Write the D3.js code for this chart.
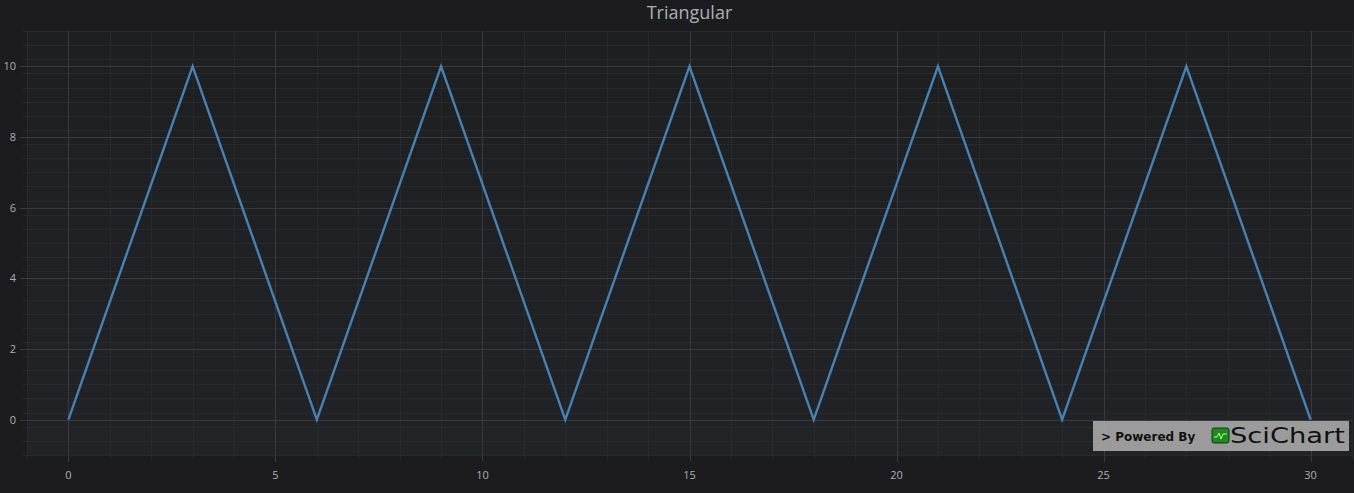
<!DOCTYPE html>
<html>
<head>
<meta charset="utf-8">
<script src="https://cdn.jsdelivr.net/npm/d3@7"></script>
<style>
  html, body { margin: 0; padding: 0; background: #1c1c1e; }
  svg { display: block; font-family: "Open Sans", "DejaVu Sans", sans-serif; }
</style>
</head>
<body>
<svg id="chart" width="1354" height="493"></svg>
<script>
// triangular wave, period 6, amplitude 10
const xValues = [0, 3, 6, 9, 12, 15, 18, 21, 24, 27, 30];
const yValues = [0, 10, 0, 10, 0, 10, 0, 10, 0, 10, 0];
const xTicks = [0, 5, 10, 15, 20, 25, 30];
const yTicks = [0, 2, 4, 6, 8, 10];
const title = 'Triangular';

const width = 1354, height = 493;
const plot = { left: 27, right: 1352, top: 31, bottom: 455 };

const svg = d3.select('#chart');

const x = d3.scaleLinear().domain([-1, 31]).range([plot.left, plot.right]);
const y = d3.scaleLinear().domain([-1, 11]).range([plot.bottom, plot.top]);

// plot background
const grad = svg.append('defs').append('linearGradient')
    .attr('id', 'bg').attr('x1', 0).attr('y1', 0).attr('x2', 0).attr('y2', 1);
grad.append('stop').attr('offset', '0%').attr('stop-color', '#1e1f21');
grad.append('stop').attr('offset', '100%').attr('stop-color', '#222326');

svg.append('rect')
    .attr('x', plot.left).attr('y', plot.top)
    .attr('width', plot.right - plot.left).attr('height', plot.bottom - plot.top)
    .attr('fill', 'url(#bg)');

// minor grid
const xMinor = d3.range(-1, 32, 1).filter(d => d % 5 !== 0);
const yMinor = d3.range(-10, 111, 4).map(d => d / 10).filter(d => d % 2 !== 0);

svg.append('g').selectAll('line').data(xMinor).enter().append('line')
    .attr('x1', d => Math.round(x(d)) + 0.5).attr('x2', d => Math.round(x(d)) + 0.5)
    .attr('y1', plot.top).attr('y2', plot.bottom + 4)
    .attr('stroke', '#28292c').attr('stroke-width', 1);

svg.append('g').selectAll('line').data(yMinor).enter().append('line')
    .attr('y1', d => Math.round(y(d)) + 0.5).attr('y2', d => Math.round(y(d)) + 0.5)
    .attr('x1', plot.left - 4).attr('x2', plot.right)
    .attr('stroke', '#28292c').attr('stroke-width', 1);

// major grid
svg.append('g').selectAll('line').data(xTicks).enter().append('line')
    .attr('x1', d => Math.round(x(d)) + 0.5).attr('x2', d => Math.round(x(d)) + 0.5)
    .attr('y1', plot.top).attr('y2', plot.bottom + 7)
    .attr('stroke', '#393a3e').attr('stroke-width', 1);

svg.append('g').selectAll('line').data(yTicks).enter().append('line')
    .attr('y1', d => Math.round(y(d)) + 0.5).attr('y2', d => Math.round(y(d)) + 0.5)
    .attr('x1', plot.left - 7).attr('x2', plot.right)
    .attr('stroke', '#393a3e').attr('stroke-width', 1);

// tick labels
svg.append('g').selectAll('text').data(xTicks).enter().append('text')
    .attr('x', d => x(d)).attr('y', 479)
    .attr('text-anchor', 'middle')
    .attr('font-size', 11).attr('fill', '#a9b0b8')
    .text(d => d);

svg.append('g').selectAll('text').data(yTicks).enter().append('text')
    .attr('x', 16).attr('y', d => y(d) + 4)
    .attr('text-anchor', 'end')
    .attr('font-size', 11).attr('fill', '#a9b0b8')
    .text(d => d);

// series
const line = d3.line().x((d, i) => x(xValues[i])).y(d => y(d));
svg.append('path')
    .datum(yValues)
    .attr('d', line)
    .attr('fill', 'none')
    .attr('stroke', '#4682b4')
    .attr('stroke-width', 2.4)
    .attr('stroke-linejoin', 'miter');

// title, centred over the plot area
svg.append('text')
    .attr('x', (plot.left + plot.right) / 2).attr('y', 19)
    .attr('text-anchor', 'middle')
    .attr('font-size', 18).attr('fill', '#a9b0b8')
    .text(title);

// watermark
const wm = svg.append('g').attr('transform', 'translate(1093,421)');
wm.append('rect').attr('width', 256).attr('height', 30)
    .attr('fill', '#a6a6a6').attr('fill-opacity', 0.92);
wm.append('text').attr('x', 8).attr('y', 20)
    .attr('font-family', 'Verdana, "DejaVu Sans", sans-serif')
    .attr('font-weight', 'bold').attr('font-size', 12).attr('fill', '#111')
    .text('> Powered By');
wm.append('rect').attr('x', 119).attr('y', 7).attr('width', 17).attr('height', 15)
    .attr('rx', 2).attr('fill', '#1f8a1f').attr('stroke', '#0c3f0c');
wm.append('path').attr('d', 'M121,16 L124,16 L126,12 L128,18 L130,13 L134,13')
    .attr('fill', 'none').attr('stroke', '#b8ff8a').attr('stroke-width', 1);
wm.append('text').attr('x', 137).attr('y', 22)
    .attr('font-family', '"DejaVu Sans", sans-serif')
    .attr('font-size', 21).attr('fill', '#111')
    .attr('textLength', 115).attr('lengthAdjust', 'spacingAndGlyphs')
    .text('SciChart');
</script>
</body>
</html>
